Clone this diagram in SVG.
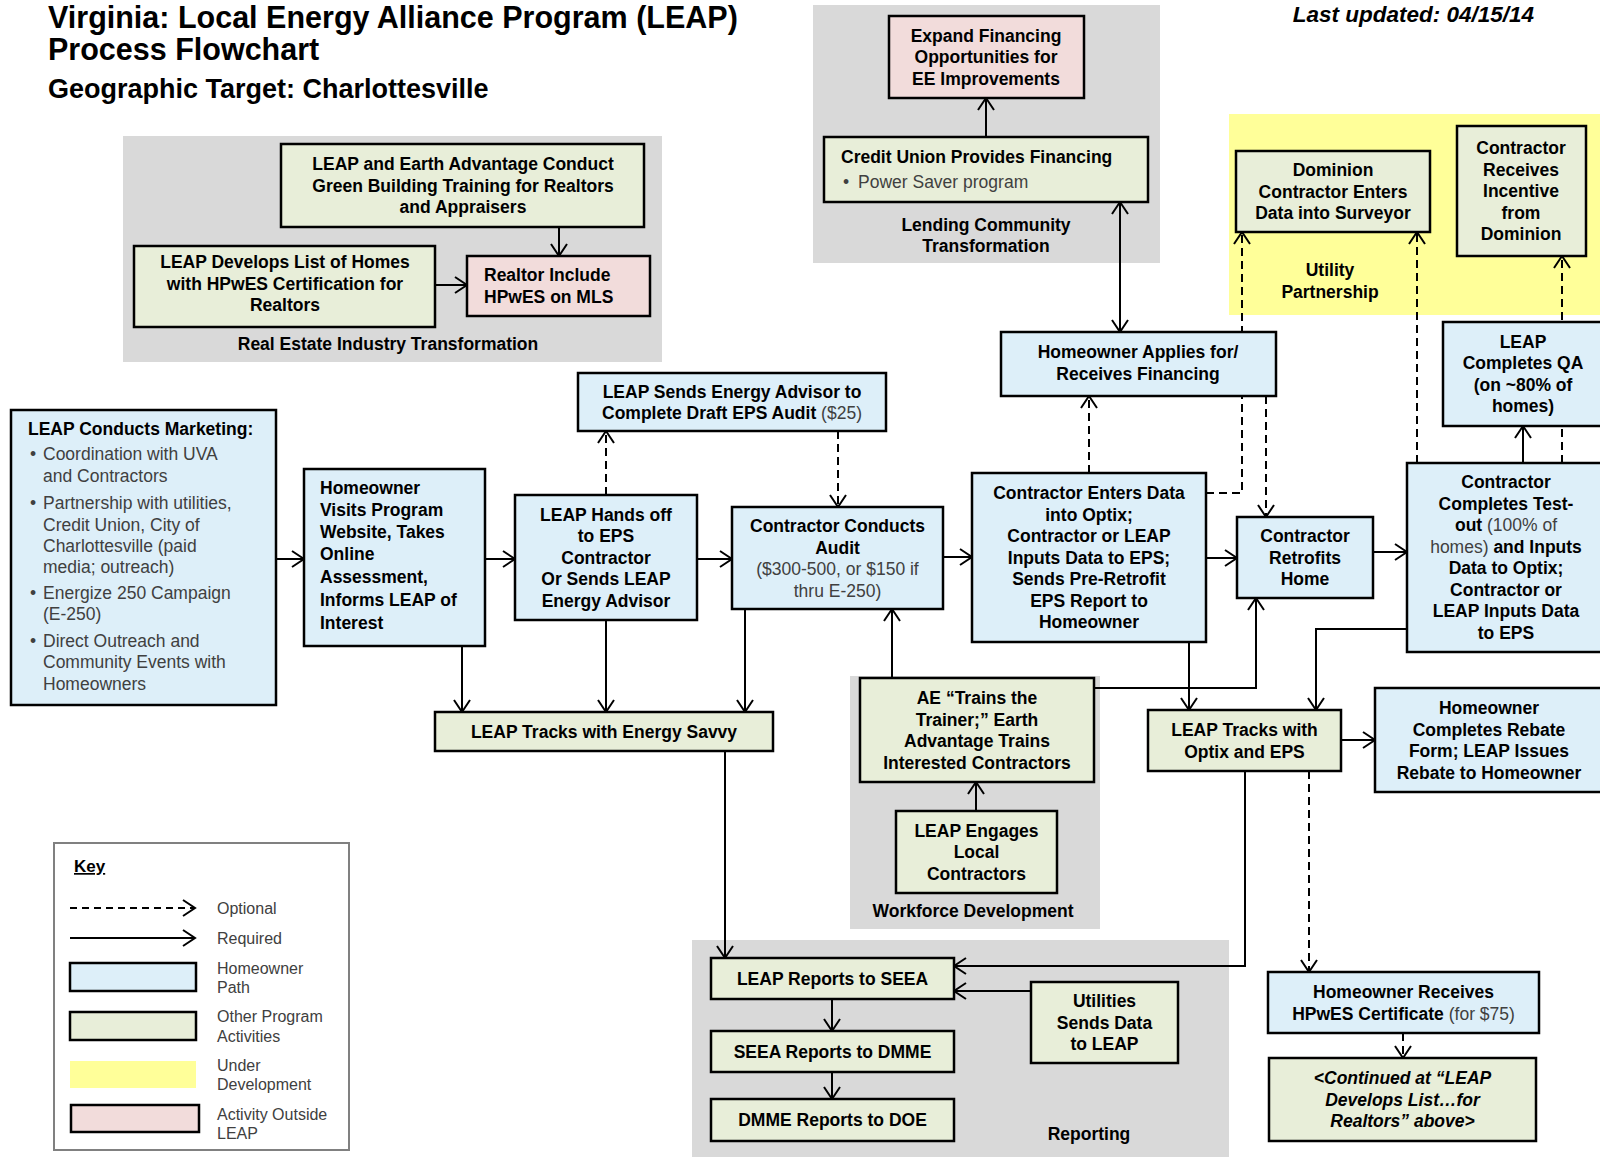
<svg xmlns="http://www.w3.org/2000/svg" width="1600" height="1157" viewBox="0 0 1600 1157">
<style>
text{font-family:"Liberation Sans",Arial,sans-serif;font-size:17.5px;font-weight:bold;fill:#000}
.m{text-anchor:middle}
.n{font-weight:normal;fill:#404040}
.k{font-weight:normal;fill:#404040;font-size:16px}
.b{fill:#DDEFF9;stroke:#000;stroke-width:2.5}
.g{fill:#E8EED9;stroke:#000;stroke-width:2.5}
.p{fill:#F2DCDB;stroke:#000;stroke-width:2.5}
.panel{fill:#D9D9D9}
.c{fill:none;stroke:#000;stroke-width:2;marker-end:url(#ah)}
.d{stroke-dasharray:8 5}
</style>
<defs>
<marker id="ah" markerUnits="userSpaceOnUse" markerWidth="16" markerHeight="20" viewBox="0 0 16 20" refX="14" refY="10" orient="auto-start-reverse">
<path d="M2,2 L14,10 L2,18" fill="none" stroke="#000" stroke-width="2" stroke-dasharray="none"/>
</marker>
</defs>
<rect width="1600" height="1157" fill="#fff"/>

<g id="title">
<text x="48" y="28" style="font-size:30.5px">Virginia: Local Energy Alliance Program (LEAP)</text>
<text x="48" y="60" style="font-size:30.5px">Process Flowchart</text>
<text x="48" y="98" style="font-size:27px">Geographic Target: Charlottesville</text>
<text x="1534" y="22" text-anchor="end" style="font-size:22.5px;font-style:italic">Last updated: 04/15/14</text>
</g>

<g id="panels">
<g id="panel-real-estate"><rect class="panel" x="123" y="136" width="539" height="226"/><text class="m" x="388" y="350">Real Estate Industry Transformation</text></g>
<g id="panel-lending"><rect class="panel" x="813" y="5" width="347" height="258"/><text class="m" x="986" y="231">Lending Community</text><text class="m" x="986" y="252">Transformation</text></g>
<g id="panel-utility"><rect x="1229" y="114" width="371" height="201" fill="#FFFF99"/><text class="m" x="1330" y="276">Utility</text><text class="m" x="1330" y="298">Partnership</text></g>
<g id="panel-workforce"><rect class="panel" x="850" y="676" width="250" height="253"/><text class="m" x="973" y="917">Workforce Development</text></g>
<g id="panel-reporting"><rect class="panel" x="692" y="940" width="537" height="217"/><text class="m" x="1089" y="1140">Reporting</text></g>
</g>

<g id="connectors">
<path class="c" d="M559,227 V256"/>
<path class="c" d="M435,285 H467"/>
<path class="c" d="M986,137 V98"/>
<path class="c" d="M1120,332 V202" style="marker-start:url(#ah)"/>
<path class="c" d="M276,559 H304"/>
<path class="c" d="M485,559 H515"/>
<path class="c" d="M697,559 H732"/>
<path class="c" d="M943,557 H972"/>
<path class="c" d="M1206,558 H1237"/>
<path class="c" d="M1373,552 H1407"/>
<path class="c" d="M1523,463 V426"/>
<path class="c" d="M1407,629 H1316 V710"/>
<path class="c" d="M1189,642 V710"/>
<path class="c" d="M1094,688 H1256 V598"/>
<path class="c" d="M892,678 V609"/>
<path class="c" d="M976,811 V782"/>
<path class="c" d="M462,646 V712"/>
<path class="c" d="M606,620 V712"/>
<path class="c" d="M745,609 V712"/>
<path class="c" d="M725,751 V958"/>
<path class="c" d="M1245,771 V966 H954"/>
<path class="c" d="M1031,991 H954"/>
<path class="c" d="M832,999 V1031"/>
<path class="c" d="M832,1072 V1099"/>
<path class="c" d="M1341,740 H1375"/>
<path class="c d" d="M606,495 V431"/>
<path class="c d" d="M838,431 V507"/>
<path class="c d" d="M1089,473 V396"/>
<path class="c d" d="M1206,493 H1242 V232"/>
<path class="c d" d="M1266,396 V517"/>
<path class="c d" d="M1417,463 V232"/>
<path class="c d" d="M1562,463 V256"/>
<path class="c d" d="M1309,771 V972"/>
<path class="c d" d="M1403,1033 V1058"/>
</g>

<g id="n-training"><rect class="g" x="281" y="144" width="363" height="83"/>
<text class="m" x="463" y="170">LEAP and Earth Advantage Conduct</text><text class="m" x="463" y="191.5">Green Building Training for Realtors</text><text class="m" x="463" y="213">and Appraisers</text></g>
<g id="n-list"><rect class="g" x="134" y="246" width="301" height="81"/>
<text class="m" x="285" y="268">LEAP Develops List of Homes</text><text class="m" x="285" y="289.5">with HPwES Certification for</text><text class="m" x="285" y="311">Realtors</text></g>
<g id="n-realtor"><rect class="p" x="467" y="256" width="183" height="60"/>
<text x="484" y="281">Realtor Include</text><text x="484" y="302.5">HPwES on MLS</text></g>

<g id="n-expand"><rect class="p" x="889" y="16" width="195" height="82"/>
<text class="m" x="986" y="41.5">Expand Financing</text><text class="m" x="986" y="63">Opportunities for</text><text class="m" x="986" y="84.5">EE Improvements</text></g>
<g id="n-credit"><rect class="g" x="824" y="137" width="324" height="65"/>
<text x="841" y="163">Credit Union Provides Financing</text><text class="n" x="843" y="188">•</text><text class="n" x="858" y="188">Power Saver program</text></g>

<g id="n-dominion"><rect class="g" x="1236" y="151" width="194" height="81"/>
<text class="m" x="1333" y="176">Dominion</text><text class="m" x="1333" y="197.5">Contractor Enters</text><text class="m" x="1333" y="219">Data into Surveyor</text></g>
<g id="n-incentive"><rect class="g" x="1457" y="126" width="129" height="130"/>
<text class="m" x="1521" y="154">Contractor</text><text class="m" x="1521" y="175.5">Receives</text><text class="m" x="1521" y="197">Incentive</text><text class="m" x="1521" y="218.5">from</text><text class="m" x="1521" y="240">Dominion</text></g>

<g id="n-applies"><rect class="b" x="1001" y="332" width="275" height="64"/>
<text class="m" x="1138" y="358">Homeowner Applies for/</text><text class="m" x="1138" y="379.5">Receives Financing</text></g>
<g id="n-qa"><rect class="b" x="1443" y="322" width="162" height="104"/>
<text class="m" x="1523" y="347.5">LEAP</text><text class="m" x="1523" y="369">Completes QA</text><text class="m" x="1523" y="390.5">(on ~80% of</text><text class="m" x="1523" y="412">homes)</text></g>

<g id="n-advisor"><rect class="b" x="578" y="373" width="308" height="58"/>
<text class="m" x="732" y="397.5">LEAP Sends Energy Advisor to</text><text class="m" x="732" y="419">Complete Draft EPS Audit <tspan class="n">($25)</tspan></text></g>

<g id="n-marketing"><rect class="b" x="11" y="410" width="265" height="295"/>
<text x="28" y="435">LEAP Conducts Marketing:</text>
<text class="n" x="30" y="460">•</text><text class="n" x="43" y="460">Coordination with UVA</text>
<text class="n" x="43" y="481.5">and Contractors</text>
<text class="n" x="30" y="509">•</text><text class="n" x="43" y="509">Partnership with utilities,</text>
<text class="n" x="43" y="530.5">Credit Union, City of</text>
<text class="n" x="43" y="552">Charlottesville (paid</text>
<text class="n" x="43" y="573">media; outreach)</text>
<text class="n" x="30" y="599">•</text><text class="n" x="43" y="599">Energize 250 Campaign</text>
<text class="n" x="43" y="620">(E-250)</text>
<text class="n" x="30" y="647">•</text><text class="n" x="43" y="647">Direct Outreach and</text>
<text class="n" x="43" y="668">Community Events with</text>
<text class="n" x="43" y="690">Homeowners</text></g>

<g id="n-visits"><rect class="b" x="304" y="469" width="181" height="177"/>
<text x="320" y="494">Homeowner</text><text x="320" y="516">Visits Program</text><text x="320" y="538">Website, Takes</text><text x="320" y="560">Online</text><text x="320" y="583">Assessment,</text><text x="320" y="606">Informs LEAP of</text><text x="320" y="629">Interest</text></g>

<g id="n-handoff"><rect class="b" x="515" y="495" width="182" height="125"/>
<text class="m" x="606" y="520.5">LEAP Hands off</text><text class="m" x="606" y="542">to EPS</text><text class="m" x="606" y="563.5">Contractor</text><text class="m" x="606" y="585">Or Sends LEAP</text><text class="m" x="606" y="606.5">Energy Advisor</text></g>

<g id="n-audit"><rect class="b" x="732" y="507" width="211" height="102"/>
<text class="m" x="837.5" y="532">Contractor Conducts</text><text class="m" x="837.5" y="553.5">Audit</text><text class="m n" x="837.5" y="575">($300-500, or $150 if</text><text class="m n" x="837.5" y="596.5">thru E-250)</text></g>

<g id="n-enters"><rect class="b" x="972" y="473" width="234" height="169"/>
<text class="m" x="1089" y="499">Contractor Enters Data</text><text class="m" x="1089" y="520.5">into Optix;</text><text class="m" x="1089" y="542">Contractor or LEAP</text><text class="m" x="1089" y="563.5">Inputs Data to EPS;</text><text class="m" x="1089" y="585">Sends Pre-Retrofit</text><text class="m" x="1089" y="606.5">EPS Report to</text><text class="m" x="1089" y="628">Homeowner</text></g>

<g id="n-retrofits"><rect class="b" x="1237" y="517" width="136" height="81"/>
<text class="m" x="1305" y="542">Contractor</text><text class="m" x="1305" y="563.5">Retrofits</text><text class="m" x="1305" y="585">Home</text></g>

<g id="n-testout"><rect class="b" x="1407" y="463" width="198" height="189"/>
<text class="m" x="1506" y="488">Contractor</text><text class="m" x="1506" y="509.5">Completes Test-</text><text class="m" x="1506" y="531">out <tspan class="n">(100% of</tspan></text><text class="m" x="1506" y="552.5"><tspan class="n">homes)</tspan> and Inputs</text><text class="m" x="1506" y="574">Data to Optix;</text><text class="m" x="1506" y="595.5">Contractor or</text><text class="m" x="1506" y="617">LEAP Inputs Data</text><text class="m" x="1506" y="638.5">to EPS</text></g>

<g id="n-energysavvy"><rect class="g" x="435" y="712" width="338" height="39"/>
<text class="m" x="604" y="737.5">LEAP Tracks with Energy Savvy</text></g>

<g id="n-ae"><rect class="g" x="860" y="678" width="234" height="104"/>
<text class="m" x="977" y="704">AE “Trains the</text><text class="m" x="977" y="725.5">Trainer;” Earth</text><text class="m" x="977" y="747">Advantage Trains</text><text class="m" x="977" y="768.5">Interested Contractors</text></g>

<g id="n-engages"><rect class="g" x="896" y="811" width="161" height="82"/>
<text class="m" x="976.5" y="836.5">LEAP Engages</text><text class="m" x="976.5" y="858">Local</text><text class="m" x="976.5" y="879.5">Contractors</text></g>

<g id="n-optix"><rect class="g" x="1148" y="710" width="193" height="61"/>
<text class="m" x="1244.5" y="736">LEAP Tracks with</text><text class="m" x="1244.5" y="757.5">Optix and EPS</text></g>

<g id="n-rebate"><rect class="b" x="1375" y="688" width="230" height="104"/>
<text class="m" x="1489" y="714">Homeowner</text><text class="m" x="1489" y="735.5">Completes Rebate</text><text class="m" x="1489" y="757">Form; LEAP Issues</text><text class="m" x="1489" y="778.5">Rebate to Homeowner</text></g>

<g id="n-seea"><rect class="g" x="711" y="958" width="243" height="41"/>
<text class="m" x="832.5" y="984.5">LEAP Reports to SEEA</text></g>
<g id="n-dmme"><rect class="g" x="711" y="1031" width="243" height="41"/>
<text class="m" x="832.5" y="1057.5">SEEA Reports to DMME</text></g>
<g id="n-doe"><rect class="g" x="711" y="1099" width="243" height="42"/>
<text class="m" x="832.5" y="1126">DMME Reports to DOE</text></g>
<g id="n-utilities"><rect class="g" x="1031" y="982" width="147" height="81"/>
<text class="m" x="1104.5" y="1007">Utilities</text><text class="m" x="1104.5" y="1028.5">Sends Data</text><text class="m" x="1104.5" y="1050">to LEAP</text></g>

<g id="n-hpwes"><rect class="b" x="1268" y="972" width="271" height="61"/>
<text class="m" x="1403.5" y="998">Homeowner Receives</text><text class="m" x="1403.5" y="1019.5">HPwES Certificate <tspan class="n">(for $75)</tspan></text></g>
<g id="n-continued"><rect class="g" x="1269" y="1058" width="267" height="83"/>
<text class="m" x="1402.5" y="1084" style="font-style:italic">&lt;Continued at “LEAP</text><text class="m" x="1402.5" y="1105.5" style="font-style:italic">Develops List…for</text><text class="m" x="1402.5" y="1127" style="font-style:italic">Realtors” above&gt;</text></g>

<g id="key">
<rect x="54" y="843" width="295" height="307" fill="#fff" stroke="#808080" stroke-width="2"/>
<text x="74" y="872" style="font-size:17px;text-decoration:underline">Key</text>
<path class="c d" d="M70,908 H195" style="stroke-dasharray:7 5"/>
<text class="k" x="217" y="914">Optional</text>
<path class="c" d="M70,938 H195"/>
<text class="k" x="217" y="944">Required</text>
<rect class="b" x="70" y="963" width="126" height="28"/>
<text class="k" x="217" y="974">Homeowner</text><text class="k" x="217" y="993">Path</text>
<rect class="g" x="70" y="1012" width="126" height="28"/>
<text class="k" x="217" y="1022">Other Program</text><text class="k" x="217" y="1042">Activities</text>
<rect x="70" y="1061" width="126" height="27" fill="#FFFF99"/>
<text class="k" x="217" y="1071">Under</text><text class="k" x="217" y="1090">Development</text>
<rect class="p" x="71" y="1105" width="128" height="27"/>
<text class="k" x="217" y="1120">Activity Outside</text><text class="k" x="217" y="1139">LEAP</text>
</g>
</svg>
